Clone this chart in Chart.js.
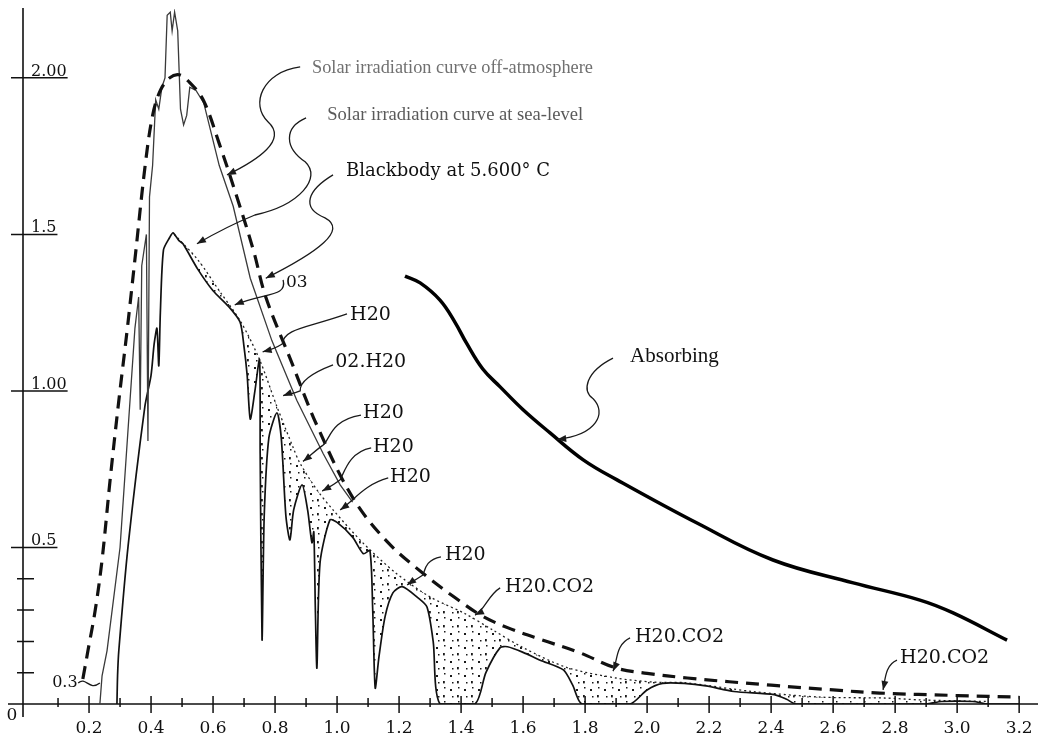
<!DOCTYPE html>
<html>
<head>
<meta charset="utf-8">
<script src="https://cdn.jsdelivr.net/npm/chart.js@4.4.0/dist/chart.umd.min.js"></script>
<style>
  html, body { margin: 0; padding: 0; background: #fff; }
  #wrap { width: 1041px; height: 738px; }
</style>
</head>
<body>
<div id="wrap"><canvas id="spectrum" width="1041" height="738"></canvas></div>
<script>
// wavelength (micron) / irradiance pairs
const blackbody = [[0.18,0.08],[0.197,0.173],[0.22,0.3],[0.242,0.46],[0.268,0.716],[0.295,0.96],[0.323,1.195],
  [0.348,1.42],[0.381,1.72],[0.405,1.88],[0.43,1.96],[0.46,2.0],[0.49,2.01],[0.52,1.99],[0.568,1.93],[0.62,1.79],
  [0.68,1.61],[0.73,1.45],[0.77,1.30],[0.85,1.10],[0.935,0.89],[1.05,0.66],[1.16,0.52],[1.28,0.415],[1.38,0.34],
  [1.47,0.28],[1.56,0.24],[1.66,0.205],[1.78,0.165],[1.9,0.115],[2.0,0.098],[2.13,0.083],[2.4,0.06],[2.6,0.045],
  [2.75,0.035],[3.0,0.027],[3.2,0.022]];

const offAtmosphere = [[0.235,0],[0.242,0.09],[0.258,0.17],[0.30,0.50],[0.348,1.2],[0.36,1.3],[0.365,0.94],[0.37,1.40],
  [0.385,1.5],[0.39,0.84],[0.395,1.62],[0.405,1.72],[0.415,1.93],[0.425,1.9],[0.435,1.97],[0.445,2.0],[0.452,2.2],
  [0.462,2.21],[0.468,2.15],[0.476,2.21],[0.486,2.15],[0.495,1.9],[0.505,1.85],[0.515,1.88],[0.525,1.97],[0.545,1.96],
  [0.57,1.92],[0.62,1.72],[0.665,1.59],[0.72,1.36],[0.79,1.16],[0.87,0.97],[0.955,0.80],[1.01,0.70],[1.05,0.645]];

const seaLevel = [[0.29,0],[0.292,0.09],[0.296,0.17],[0.326,0.505],[0.38,0.95],[0.40,1.05],[0.41,1.15],[0.419,1.2],
  [0.425,1.08],[0.43,1.25],[0.44,1.45],[0.46,1.49],[0.471,1.505],[0.49,1.48],[0.503,1.47],[0.55,1.39],[0.60,1.32],
  [0.65,1.27],[0.687,1.22],[0.70,1.14],[0.71,1.05],[0.72,0.91],[0.735,1.0],[0.75,1.10],[0.752,0.8],[0.758,0.205],
  [0.765,0.6],[0.78,0.85],[0.806,0.93],[0.82,0.85],[0.835,0.6],[0.848,0.524],[0.86,0.62],[0.887,0.70],[0.905,0.62],
  [0.919,0.515],[0.925,0.55],[0.93,0.3],[0.935,0.115],[0.945,0.45],[0.977,0.588],[1.0,0.58],[1.05,0.533],[1.085,0.48],
  [1.106,0.49],[1.115,0.3],[1.123,0.051],[1.135,0.15],[1.155,0.28],[1.18,0.355],[1.21,0.375],[1.26,0.34],[1.29,0.31],
  [1.31,0.2],[1.332,0],[1.445,0],[1.48,0.1],[1.526,0.18],[1.55,0.183],[1.60,0.165],[1.655,0.14],[1.73,0.109],
  [1.76,0.06],[1.79,0],[1.945,0],[2.0,0.045],[2.05,0.066],[2.12,0.066],[2.19,0.058],[2.28,0.04],[2.41,0.03],
  [2.45,0.015],[2.48,0],[2.9,0],[2.95,0.008],[3.05,0.008],[3.1,0],[3.2,0]];

// dotted upper edge of the stippled absorption bands
const absorptionTop = [[0.475,1.5],[0.55,1.42],[0.62,1.32],[0.69,1.22],[0.75,1.10],[0.806,0.95],[0.858,0.82],
  [0.88,0.77],[0.935,0.684],[0.987,0.62],[1.084,0.514],[1.19,0.418],[1.30,0.342],[1.41,0.29],[1.503,0.236],
  [1.6,0.18],[1.74,0.117],[1.90,0.083],[2.02,0.07],[2.12,0.068],[2.34,0.04],[2.56,0.022],[2.77,0.019],[2.88,0.013],[3.1,0.008]];

const absorbing = [[1.219,1.367],[1.268,1.345],[1.332,1.29],[1.38,1.22],[1.419,1.15],[1.47,1.07],[1.526,1.013],
  [1.6,0.94],[1.687,0.866],[1.794,0.78],[1.903,0.716],[2.161,0.578],[2.406,0.46],[2.665,0.387],[2.88,0.332],
  [2.987,0.291],[3.161,0.204]];

const xTickValues = [0.2,0.4,0.6,0.8,1.0,1.2,1.4,1.6,1.8,2.0,2.2,2.4,2.6,2.8,3.0,3.2];
const xTickLabels = ['0.2','0.4','0.6','0.8','1.0','1.2','1.4','1.6','1.8','2.0','2.2','2.4','2.6','2.8','3.0','3.2'];
const xMinorTicks = [0.1,0.3,0.5,0.7,0.9,1.1,1.3,1.5,1.7,1.9,2.1,2.3,2.5,2.7,2.9,3.1];
const yTickValues = [0.5,1.0,1.5,2.0];
const yTickLabels = ['0.5','1.00','1.5','2.00'];
const yMinorTicks = [0.1,0.2,0.3,0.4];

// labels with their curly leader lines (text anchor, then bezier path ending in an arrow)
const notes = [
  {text:'Solar irradiation curve off-atmosphere', at:[0.919,2.032], font:'19px "Liberation Serif"', color:'#707070', maxW:281,
   path:[[0.881,2.035],[0.758,2.019],[0.719,1.914],[0.777,1.86],[0.842,1.802],[0.745,1.738],[0.645,1.69]]},
  {text:'Solar irradiation curve at sea-level', at:[0.968,1.882], font:'19px "Liberation Serif"', color:'#5a5a5a', maxW:256,
   path:[[0.90,1.872],[0.826,1.84],[0.832,1.776],[0.897,1.732],[0.952,1.681],[0.881,1.594],[0.735,1.562],[0.68,1.54],[0.60,1.50],[0.548,1.47]]},
  {text:'Blackbody at 5.600\u00b0 C', at:[1.029,1.70], font:'18px "DejaVu Serif"', color:'#111', maxW:204,
   path:[[0.987,1.69],[0.906,1.642],[0.881,1.585],[0.961,1.553],[1.035,1.514],[0.939,1.444],[0.77,1.36]]},
  {text:'03', at:[0.835,1.345], font:'17px "DejaVu Serif"', color:'#111',
   path:[[0.826,1.355],[0.84,1.30],[0.77,1.315],[0.67,1.275]]},
  {text:'H20', at:[1.042,1.243], path:[[1.032,1.246],[0.90,1.20],[0.83,1.20],[0.823,1.15],[0.80,1.135],[0.78,1.13],[0.76,1.125]]},
  {text:'02.H20', at:[0.994,1.093], path:[[0.987,1.083],[0.90,1.05],[0.88,1.02],[0.881,1.0],[0.86,0.99],[0.84,0.99],[0.826,0.985]]},
  {text:'H20', at:[1.084,0.93], path:[[1.077,0.923],[0.977,0.907],[0.977,0.843],[0.955,0.827],[0.93,0.81],[0.91,0.79],[0.89,0.775]]},
  {text:'H20', at:[1.116,0.821], path:[[1.11,0.818],[1.042,0.805],[1.026,0.748],[1.01,0.716],[0.99,0.70],[0.97,0.69],[0.952,0.68]]},
  {text:'H20', at:[1.171,0.725], path:[[1.165,0.722],[1.087,0.70],[1.06,0.655],[1.01,0.62]]},
  {text:'H20', at:[1.348,0.476], path:[[1.335,0.47],[1.284,0.46],[1.284,0.428],[1.277,0.412],[1.26,0.40],[1.24,0.39],[1.226,0.38]]},
  {text:'H20.CO2', at:[1.542,0.374], path:[[1.526,0.371],[1.487,0.348],[1.477,0.30],[1.445,0.284]]},
  {text:'H20.CO2', at:[1.961,0.214], path:[[1.945,0.211],[1.897,0.188],[1.906,0.141],[1.89,0.105]]},
  {text:'H20.CO2', at:[2.816,0.147], path:[[2.806,0.14],[2.768,0.125],[2.768,0.077],[2.761,0.045]]},
  {text:'Absorbing', at:[1.945,1.109], font:'21px "Liberation Serif"', color:'#111',
   path:[[1.89,1.105],[1.80,1.06],[1.79,1.0],[1.826,0.975],[1.87,0.93],[1.84,0.86],[1.71,0.845]]},
  {text:'0.3', at:[0.081,0.067], font:'16px "DejaVu Serif"', color:'#111', noArrow:true,
   path:[[0.165,0.067],[0.19,0.09],[0.2,0.04],[0.235,0.067]]}
];

var ctx = document.getElementById('spectrum').getContext('2d');

// stippled fill for the absorption bands, coarse and sparse like the print
function stipple() {
    var c = document.createElement('canvas');
    c.width = 14; c.height = 14;
    var g = c.getContext('2d');
    g.fillStyle = '#1a1a1a';
    g.fillRect(2, 3, 2, 2);
    g.fillRect(9, 9, 1.8, 2.4);
    g.fillRect(10, 1, 1.5, 1.5);
    g.fillRect(4, 10, 1.5, 1.5);
    return ctx.createPattern(c, 'repeat');
}

function toXY(pts) {
    return pts.map(p => ({x: p[0], y: p[1]}));
}

const decor = {
    id: 'decor',
    beforeDatasetsDraw(chart) {
        const c = chart.ctx, xs = chart.scales.x, ys = chart.scales.y;
        const x0 = xs.left, y0 = ys.getPixelForValue(0);
        c.save();
        c.strokeStyle = '#111';
        c.fillStyle = '#111';
        // axes
        c.lineWidth = 1.6;
        c.beginPath();
        c.moveTo(x0 - 15, y0); c.lineTo(xs.right + 8, y0);
        c.moveTo(x0, ys.top - 1); c.lineTo(x0, y0 + 13);
        c.stroke();
        // x ticks
        c.lineWidth = 1.5;
        c.beginPath();
        xTickValues.forEach(v => { const px = xs.getPixelForValue(v); c.moveTo(px, y0 - 8); c.lineTo(px, y0 + 9); });
        xMinorTicks.forEach(v => { const px = xs.getPixelForValue(v); c.moveTo(px, y0 - 6); c.lineTo(px, y0 + 3); });
        c.stroke();
        c.font = '17px "DejaVu Serif"';
        c.textAlign = 'center';
        c.textBaseline = 'middle';
        xTickValues.forEach((v, i) => c.fillText(xTickLabels[i], xs.getPixelForValue(v), y0 + 25));
        c.fillText('0', x0 - 11, y0 + 12);
        // y ticks, labels sit on top of the long tick like an underline
        c.font = '16px "DejaVu Serif"';
        c.textAlign = 'left';
        c.textBaseline = 'alphabetic';
        c.beginPath();
        yTickValues.forEach((v, i) => {
            const py = ys.getPixelForValue(v);
            const w = c.measureText(yTickLabels[i]).width;
            c.fillText(yTickLabels[i], x0 + 8, py - 2);
            c.moveTo(x0 - 12, py); c.lineTo(x0 + 9 + w, py);
        });
        yMinorTicks.forEach(v => { const py = ys.getPixelForValue(v); c.moveTo(x0 - 6, py); c.lineTo(x0 + 11, py); });
        c.stroke();
        c.restore();
    },
    afterDatasetsDraw(chart) {
        const c = chart.ctx, xs = chart.scales.x, ys = chart.scales.y;
        c.save();
        notes.forEach(n => {
            const p = n.path.map(q => [xs.getPixelForValue(q[0]), ys.getPixelForValue(q[1])]);
            c.strokeStyle = '#1a1a1a';
            c.fillStyle = '#1a1a1a';
            c.lineWidth = 1.3;
            c.beginPath();
            c.moveTo(p[0][0], p[0][1]);
            for (let i = 1; i + 2 < p.length; i += 3) {
                c.bezierCurveTo(p[i][0], p[i][1], p[i+1][0], p[i+1][1], p[i+2][0], p[i+2][1]);
            }
            c.stroke();
            if (!n.noArrow) {
                const e = p[p.length - 1], b = p[p.length - 2];
                const a = Math.atan2(e[1] - b[1], e[0] - b[0]);
                c.beginPath();
                c.moveTo(e[0], e[1]);
                c.lineTo(e[0] - 9 * Math.cos(a) + 3.5 * Math.sin(a), e[1] - 9 * Math.sin(a) - 3.5 * Math.cos(a));
                c.lineTo(e[0] - 9 * Math.cos(a) - 3.5 * Math.sin(a), e[1] - 9 * Math.sin(a) + 3.5 * Math.cos(a));
                c.closePath();
                c.fill();
            }
            c.font = n.font || '19px "DejaVu Serif"';
            c.fillStyle = n.color || '#111';
            c.textAlign = 'left';
            c.textBaseline = 'middle';
            const tx = xs.getPixelForValue(n.at[0]), ty = ys.getPixelForValue(n.at[1]);
            if (n.maxW) c.fillText(n.text, tx, ty, n.maxW);
            else c.fillText(n.text, tx, ty);
        });
        c.restore();
    }
};

var chartConfig = {
    type: 'line',
    data: {
        datasets: [
            {
                label: 'Blackbody',
                data: toXY(blackbody),
                borderColor: '#111',
                borderWidth: 3.2,
                borderDash: [13, 8],
                tension: 0.35,
                pointRadius: 0,
                fill: false
            },
            {
                label: 'Off-atmosphere',
                data: toXY(offAtmosphere),
                borderColor: '#3a3a3a',
                borderWidth: 1.3,
                tension: 0,
                pointRadius: 0,
                fill: false
            },
            {
                label: 'Sea-level',
                data: toXY(seaLevel),
                borderColor: '#111',
                borderWidth: 1.7,
                tension: 0.25,
                pointRadius: 0,
                fill: false
            },
            {
                label: 'Absorption',
                data: toXY(absorptionTop),
                borderColor: '#222',
                borderWidth: 1.3,
                borderDash: [2, 3],
                backgroundColor: stipple(),
                tension: 0.3,
                pointRadius: 0,
                fill: {target: 2}
            },
            {
                label: 'Absorbing',
                data: toXY(absorbing),
                borderColor: '#000',
                borderWidth: 3.5,
                tension: 0.4,
                pointRadius: 0,
                fill: false
            }
        ]
    },
    options: {
        responsive: false,
        animation: false,
        layout: { padding: { left: 23, right: 11, top: 9, bottom: 34 } },
        plugins: {
            legend: { display: false },
            tooltip: { enabled: false }
        },
        scales: {
            x: { type: 'linear', min: -0.013, max: 3.235, display: false },
            y: { type: 'linear', min: 0, max: 2.22, display: false }
        }
    },
    plugins: [decor]
};

var myChart = new Chart(ctx, chartConfig);
</script>
</body>
</html>
